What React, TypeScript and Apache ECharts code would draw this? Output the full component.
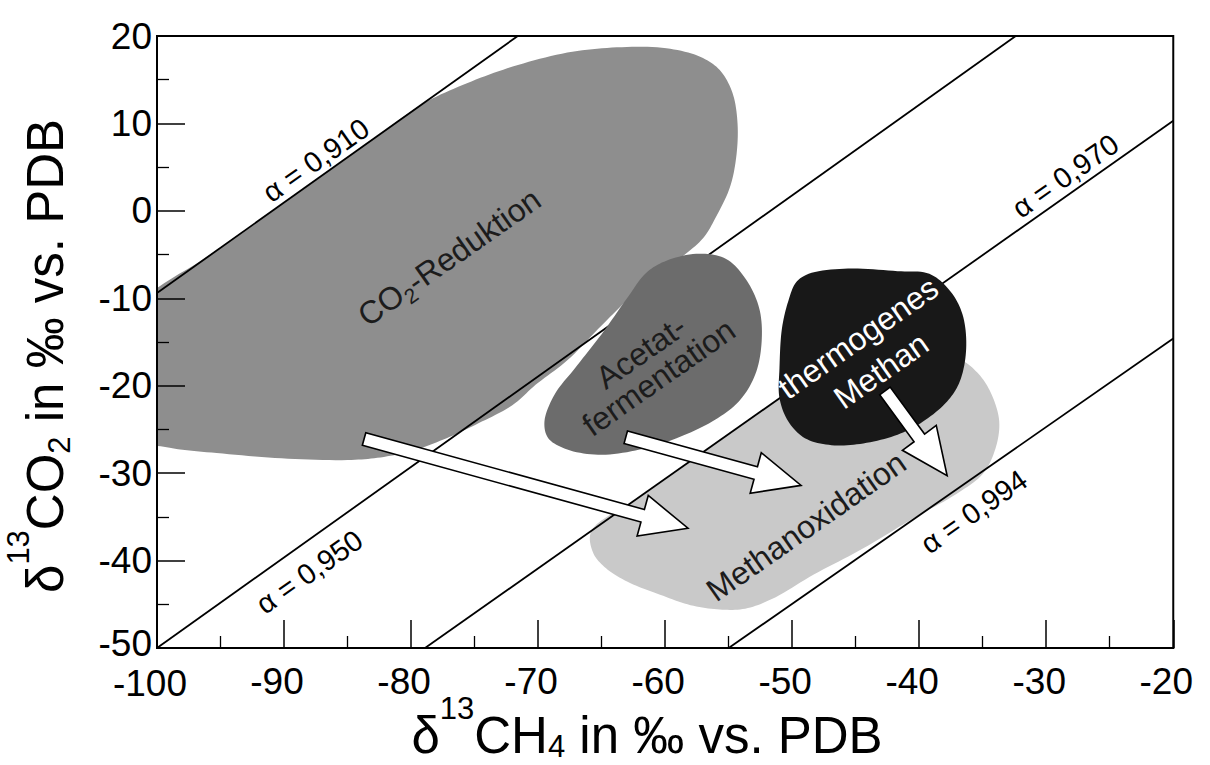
import React, { useEffect, useRef } from "react";
import * as echarts from "echarts";

// ---------- axis ranges ----------
const X_MIN = -100;
const X_MAX = -20;
const Y_MIN = -50;
const Y_MAX = 20;
const TICK_STEP = 10;

// ---------- region outlines (δ13CH4, δ13CO2) ----------
const co2Reduktion: number[][] = [
  [-101, -10.4], [-101, -14], [-101, -18], [-101, -22], [-101, -26.2],
  [-99.0, -27.1], [-95.3, -27.7], [-90.2, -28.3], [-85.0, -28.5], [-82.4, -28.2],
  [-79.8, -27.4], [-77.2, -26.0], [-74.7, -24.3], [-72.0, -22.2], [-70.2, -19.9],
  [-67.7, -17.1], [-65.0, -13.1], [-61.7, -8.5], [-58.8, -5.4], [-57.0, -3.1],
  [-56.0, -0.7], [-54.9, 2.7], [-54.4, 6.2], [-54.3, 10.0], [-54.7, 13.5],
  [-55.7, 16.1], [-57.2, 17.6], [-59.9, 18.6], [-63.8, 18.7], [-67.7, 18.1],
  [-72.0, 16.5], [-75.6, 14.6], [-79.0, 12.3], [-83.0, 8.2], [-88.0, 3.0],
  [-92.0, -1.1], [-96.0, -5.2],
];

const acetatFermentation: number[][] = [
  [-59.9, -5.7], [-57.3, -4.9], [-55.2, -5.5], [-53.7, -7.7], [-52.6, -11.1],
  [-52.4, -14.9], [-52.9, -18.7], [-54.2, -21.8], [-56.3, -24.1], [-59.1, -26.0],
  [-61.7, -27.2], [-65.0, -27.9], [-67.7, -27.3], [-69.2, -26.0], [-69.5, -24.1],
  [-68.7, -21.0], [-67.1, -18.0], [-65.0, -14.1], [-63.0, -10.0], [-61.5, -7.1],
];

const thermogenesMethan: number[][] = [
  [-48.7, -7.2], [-45.6, -6.6], [-41.7, -6.9], [-39.2, -7.2], [-37.6, -9.1],
  [-36.6, -11.8], [-36.3, -15.7], [-36.8, -19.5], [-37.8, -21.8], [-39.7, -24.1],
  [-41.7, -25.6], [-44.4, -26.6], [-46.9, -26.8], [-49.0, -26.0], [-50.3, -24.1],
  [-51.0, -21.4], [-51.0, -18.0], [-50.8, -13.4], [-50.3, -10.3], [-49.7, -8.2],
];

const methanOxidation: number[][] = [
  [-65.8, -36.6], [-62.1, -32.8], [-58.4, -29.0], [-54.7, -25.2], [-51.0, -21.4],
  [-49.0, -19.4], [-45.0, -17.2], [-40.0, -16.4], [-36.8, -17.0], [-35.3, -18.7],
  [-34.3, -21.0], [-33.7, -24.1], [-34.0, -27.2], [-35.0, -30.1], [-37.1, -32.4],
  [-40.5, -35.2], [-44.4, -38.6], [-48.3, -41.6], [-51.6, -44.4], [-53.7, -45.5],
  [-55.7, -45.6], [-58.0, -45.1], [-60.4, -43.9], [-63.0, -42.4], [-64.8, -40.7],
  [-65.7, -39.0],
];

// ---------- fractionation lines (endpoints) ----------
const alpha910: number[][] = [[-100, -9.4], [-71.6, 20]];
const alpha950: number[][] = [[-100, -50], [-32.4, 20]];
const alpha970: number[][] = [[-78.9, -50], [-20, 10.3]];
const alpha994: number[][] = [[-55.0, -50], [-20, -14.6]];

// ---------- arrows: [x tail, y tail, x tip, y tip] ----------
const arrows: number[][] = [
  [-83.7, -26.1, -58.2, -36.3],
  [-63.1, -25.9, -49.3, -31.4],
  [-42.7, -20.6, -37.8, -30.3],
];

// ---------- labels ----------
const regionLabels = ["CO2-Reduktion", "Acetat-\nfermentation", "thermogenes\nMethan", "Methanoxidation"];
const regionLabelPos: number[][] = [[-77.0, -5.3], [-61.2, -17.6], [-43.9, -16.4], [-48.9, -36.1]];
const alphaLabels = ["α = 0,910", "α = 0,950", "α = 0,970", "α = 0,994"];
const alphaLabelPos: number[][] = [[-87.5, 5.8], [-88.0, -41.3], [-28.5, 4.0], [-35.7, -34.4]];

const xTitle = ["δ", "13", "CH", "4", " in ‰ vs. PDB"];
const yTitle = ["δ", "13", "CO", "2", " in ‰ vs. PDB"];

const FONT_NAME = "Liberation Sans";
const FONT = '"Liberation Sans", Arial, Helvetica, sans-serif';
const ANGLE = (35 * Math.PI) / 180;

// centripetal Catmull-Rom through the outline (pixel space, rendering only)
function smoothOutline(P: number[][], seg = 10): number[][] {
  const n = P.length;
  const out: number[][] = [];
  const tj = (a: number[], b: number[]) => Math.max(Math.pow(Math.hypot(b[0] - a[0], b[1] - a[1]), 0.5), 1e-4);
  for (let i = 0; i < n; i++) {
    const p0 = P[(i - 1 + n) % n], p1 = P[i], p2 = P[(i + 1) % n], p3 = P[(i + 2) % n];
    const t0 = 0, t1 = t0 + tj(p0, p1), t2 = t1 + tj(p1, p2), t3 = t2 + tj(p2, p3);
    for (let s = 0; s < seg; s++) {
      const t = t1 + ((t2 - t1) * s) / seg;
      const pt = [0, 1].map((k) => {
        const A1 = ((t1 - t) / (t1 - t0)) * p0[k] + ((t - t0) / (t1 - t0)) * p1[k];
        const A2 = ((t2 - t) / (t2 - t1)) * p1[k] + ((t - t1) / (t2 - t1)) * p2[k];
        const A3 = ((t3 - t) / (t3 - t2)) * p2[k] + ((t - t2) / (t3 - t2)) * p3[k];
        const B1 = ((t2 - t) / (t2 - t0)) * A1 + ((t - t0) / (t2 - t0)) * A2;
        const B2 = ((t3 - t) / (t3 - t1)) * A2 + ((t - t1) / (t3 - t1)) * A3;
        return ((t2 - t) / (t2 - t1)) * B1 + ((t - t1) / (t2 - t1)) * B2;
      });
      out.push(pt);
    }
  }
  return out;
}

function blobSeries(pts: number[][], color: string, z: number) {
  return {
    type: "custom",
    z,
    clip: true,
    silent: true,
    data: pts,
    encode: { x: 0, y: 1 },
    renderItem: (params: any, api: any) => {
      if (params.dataIndex !== 0) return null;
      const px = pts.map((p) => api.coord(p));
      return {
        type: "polygon",
        shape: { points: smoothOutline(px) },
        style: { fill: color },
      };
    },
  };
}

function lineSeries(pts: number[][]) {
  return {
    type: "line",
    z: 4,
    silent: true,
    data: pts,
    symbol: "none",
    lineStyle: { color: "#000", width: 1.8 },
  };
}

let measureCtx: CanvasRenderingContext2D | null = null;
function textWidth(t: string, fs: number) {
  if (!measureCtx) measureCtx = document.createElement("canvas").getContext("2d");
  if (!measureCtx) return t.length * fs * 0.55;
  measureCtx.font = `${fs}px "${FONT_NAME}"`;
  return measureCtx.measureText(t).width;
}

// axis title built from pieces: main 51px, superscript / subscript 31px
function titleGroup(parts: string[], x: number, baselineY: number, rotation: number, subDy: number) {
  const MAIN = 51, SMALL = 31;
  const pieces = [
    { t: parts[0], fs: MAIN, dy: 0 },
    { t: parts[1], fs: SMALL, dy: -34 },
    { t: parts[2], fs: MAIN, dy: 0 },
    { t: parts[3], fs: SMALL, dy: subDy },
    { t: parts[4], fs: MAIN, dy: 0 },
  ];
  const widths = pieces.map((p) => textWidth(p.t, p.fs));
  const total = widths.reduce((a, b) => a + b, 0);
  let cursor = -total / 2;
  const children = pieces.map((p, i) => {
    const el = {
      type: "text",
      x: cursor,
      y: p.dy - 0.3465 * p.fs,
      silent: true,
      style: {
        text: p.t,
        fontSize: p.fs,
        fontFamily: FONT,
        fill: "#000",
        align: "left",
        verticalAlign: "middle",
        textAlign: "left",
        textVerticalAlign: "middle",
      },
    };
    cursor += widths[i];
    return el;
  });
  return { type: "group", x, y: baselineY, rotation, children };
}

export default function App() {
  const ref = useRef<HTMLDivElement>(null);

  useEffect(() => {
    if (!ref.current) return;
    const chart = echarts.init(ref.current, undefined, { renderer: "svg" });

    const regionStyle = (i: number) => {
      const fill = i === 2 ? "#ffffff" : "#1c1c1c";
      if (i === 0) {
        return {
          text: "{m|CO}{s|2}{m|-Reduktion}",
          rich: {
            m: { fontSize: 32, fontFamily: FONT, fill, lineHeight: 40 },
            s: { fontSize: 21, fontFamily: FONT, fill, verticalAlign: "bottom", lineHeight: 21 },
          },
        };
      }
      return {
        text: regionLabels[i],
        fontSize: 32,
        fontFamily: FONT,
        fill,
        lineHeight: i === 1 ? 31 : 40,
      };
    };

    const tickFont = { fontSize: 37, fontFamily: FONT, color: "#000", lineHeight: 30 };

    const option: any = {
      animation: false,
      backgroundColor: "#ffffff",
      grid: {
        left: 157,
        right: 24,
        top: 36,
        bottom: 117,
        show: true,
        borderColor: "#000",
        borderWidth: 2,
        backgroundColor: "transparent",
      },
      xAxis: {
        type: "value",
        min: X_MIN,
        max: X_MAX,
        interval: TICK_STEP,
        z: 10,
        axisLine: { onZero: false, lineStyle: { color: "#000", width: 2 } },
        axisTick: { inside: true, length: 28, lineStyle: { color: "#000", width: 1.5 } },
        minorTick: { show: true, splitNumber: 2, length: 12, lineStyle: { color: "#000", width: 1.3 } },
        splitLine: { show: false },
        axisLabel: {
          ...tickFont,
          margin: 18,
          padding: [0, 14, 0, 0],
          formatter: (v: number) => (v === X_MIN ? `{lo|${v}}` : `{n|${v}}`),
          rich: {
            lo: { ...tickFont, padding: [5, 0, 0, 0] },
            n: { ...tickFont },
          },
        },
      },
      yAxis: {
        type: "value",
        min: Y_MIN,
        max: Y_MAX,
        interval: TICK_STEP,
        z: 10,
        axisLine: { onZero: false, lineStyle: { color: "#000", width: 2 } },
        axisTick: { inside: true, length: 28, lineStyle: { color: "#000", width: 1.5 } },
        minorTick: { show: true, splitNumber: 2, length: 12, lineStyle: { color: "#000", width: 1.3 } },
        splitLine: { show: false },
        axisLabel: {
          ...tickFont,
          margin: 5,
          formatter: (v: number) => (v === Y_MIN ? `{lo|${v}}` : `{n|${v}}`),
          rich: {
            lo: { ...tickFont, padding: [0, 0, 10, 0] },
            n: { ...tickFont },
          },
        },
      },
      series: [
        blobSeries(co2Reduktion, "#8e8e8e", 2),
        blobSeries(methanOxidation, "#c9c9c9", 3),
        lineSeries(alpha910),
        lineSeries(alpha950),
        lineSeries(alpha970),
        lineSeries(alpha994),
        blobSeries(acetatFermentation, "#6c6c6c", 5),
        blobSeries(thermogenesMethan, "#181818", 6),
        {
          type: "custom",
          z: 7,
          silent: true,
          data: arrows,
          encode: { x: [0, 2], y: [1, 3] },
          renderItem: (params: any, api: any) => {
            const a = api.coord([api.value(0), api.value(1)]);
            const b = api.coord([api.value(2), api.value(3)]);
            const dx = b[0] - a[0];
            const dy = b[1] - a[1];
            const L = Math.hypot(dx, dy);
            const ux = dx / L, uy = dy / L;
            const nx = -uy, ny = ux;
            const sh = 6.5, hl = 47, hh = 21;
            const kx = b[0] - ux * hl, ky = b[1] - uy * hl;
            const points = [
              [a[0] + nx * sh, a[1] + ny * sh],
              [kx + nx * sh, ky + ny * sh],
              [kx + nx * hh, ky + ny * hh],
              [b[0], b[1]],
              [kx - nx * hh, ky - ny * hh],
              [kx - nx * sh, ky - ny * sh],
              [a[0] - nx * sh, a[1] - ny * sh],
            ];
            return {
              type: "polygon",
              shape: { points },
              style: { fill: "#ffffff", stroke: "#000", lineWidth: 1.6, lineJoin: "miter" },
            };
          },
        },
        {
          type: "custom",
          z: 8,
          silent: true,
          data: regionLabelPos,
          encode: { x: 0, y: 1 },
          renderItem: (params: any, api: any) => {
            const p = api.coord([api.value(0), api.value(1)]);
            return {
              type: "text",
              x: p[0],
              y: p[1],
              rotation: ANGLE,
              style: {
                ...regionStyle(params.dataIndex),
                align: "center",
                verticalAlign: "middle",
                textAlign: "center",
                textVerticalAlign: "middle",
              },
            };
          },
        },
        {
          type: "custom",
          z: 8,
          silent: true,
          data: alphaLabelPos,
          encode: { x: 0, y: 1 },
          renderItem: (params: any, api: any) => {
            const p = api.coord([api.value(0), api.value(1)]);
            return {
              type: "text",
              x: p[0],
              y: p[1],
              rotation: ANGLE,
              style: {
                text: alphaLabels[params.dataIndex],
                fontSize: 29,
                fontFamily: FONT,
                fill: "#000",
                align: "center",
                verticalAlign: "middle",
                textAlign: "center",
                textVerticalAlign: "middle",
              },
            };
          },
        },
      ],
      graphic: [
        titleGroup(xTitle, 647, 753, 0, 4),
        titleGroup(yTitle, 63, 356, Math.PI / 2, 7),
      ],
    };

    chart.setOption(option);
    return () => chart.dispose();
  }, []);

  return (
    <div
      ref={ref}
      style={{ position: "absolute", left: 0, top: 0, width: 1210, height: 765, background: "#fff" }}
    />
  );
}
